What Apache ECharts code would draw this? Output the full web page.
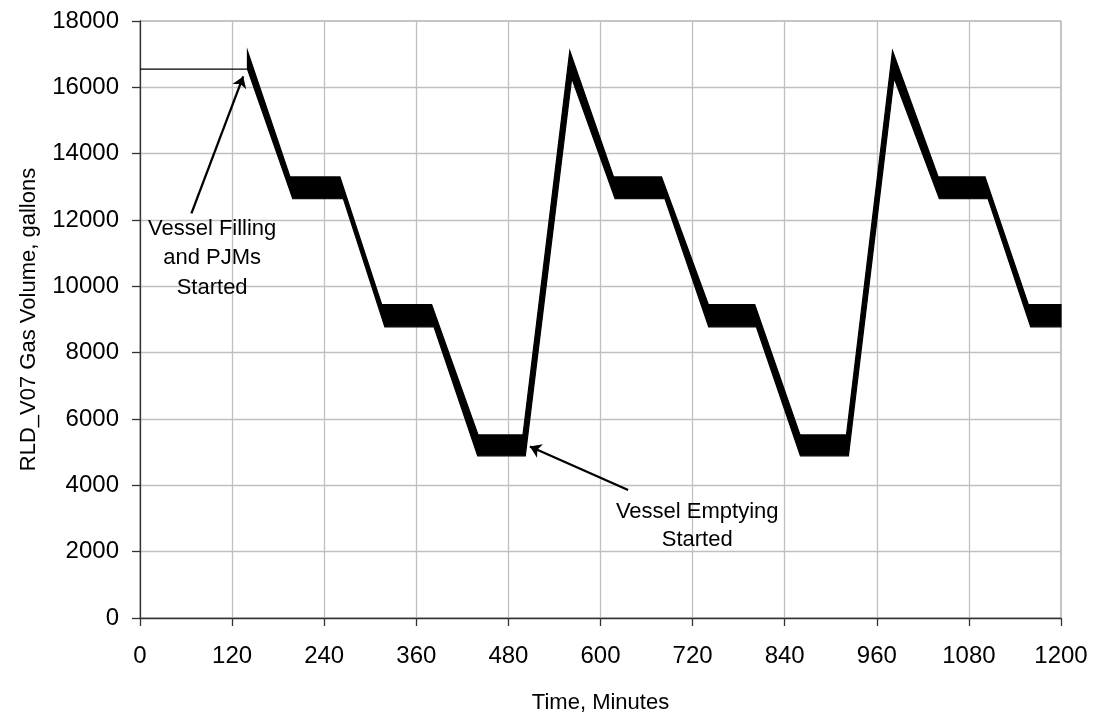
<!DOCTYPE html>
<html>
<head>
<meta charset="utf-8">
<script src="https://cdn.jsdelivr.net/npm/echarts@6/dist/echarts.min.js"></script>
<style>
  html, body { margin: 0; padding: 0; background: #fff; }
  #chart { width: 1096px; height: 716px; }
</style>
</head>
<body>
<div id="chart"></div>
<script>
// Gas volume trace: the PJM cycling makes the line oscillate faster than the
// plot resolution, so the trace is drawn as the band between its upper and
// lower envelopes (time in minutes, volume in gallons).
const upperMin = [0, 140, 140, 195.5, 260.5, 315, 380, 440.5, 499, 560, 617, 679.5, 740.5, 801, 860, 920.5, 980.5, 1040, 1101, 1157.5, 1200];
const upperGal = [16550, 16550, 17100, 13300, 13300, 9450, 9450, 5520, 5520, 17100, 13300, 13300, 9450, 9450, 5520, 5520, 17100, 13300, 13300, 9450, 9450];
const lowerMin = [0, 140, 199, 265, 319, 383, 440, 502, 562.5, 619, 684, 741, 803, 860.5, 923, 982.5, 1041.5, 1105, 1160.5, 1200];
const lowerGal = [16550, 16550, 12640, 12640, 8780, 8780, 4890, 4890, 16280, 12640, 12640, 8780, 8780, 4890, 4890, 16280, 12640, 12640, 8780, 8780];

// Axis ticks
const xTicks = [0, 120, 240, 360, 480, 600, 720, 840, 960, 1080, 1200];
const yTicks = [0, 2000, 4000, 6000, 8000, 10000, 12000, 14000, 16000, 18000];

// Callouts: text anchor, arrow tail and arrow tip in data units
const noteText = ['Vessel Filling\nand PJMs\nStarted', 'Vessel Emptying\nStarted'];
const noteAt = [[94, 10850], [726, 2790]];
const arrowFrom = [[67, 12200], [636, 3860]];
const arrowTo = [[134.5, 16330], [508, 5170]];

const FONT = 'Liberation Sans, Arial, sans-serif';
const plain = v => String(v);

const chart = echarts.init(document.getElementById('chart'), null, { renderer: 'canvas' });

const option = {
  animation: false,
  backgroundColor: '#fff',
  textStyle: { fontFamily: FONT },
  grid: {
    left: 140, right: 35, top: 21, bottom: 98,
    containLabel: false, outerBoundsMode: 'none',
    show: true, borderColor: '#8c8c8c', borderWidth: 1, backgroundColor: 'transparent'
  },
  xAxis: {
    type: 'value',
    min: xTicks[0], max: xTicks[xTicks.length - 1], interval: 120,
    name: 'Time, Minutes', nameLocation: 'middle', nameGap: 74, nameMoveOverlap: false,
    nameTextStyle: { color: '#000', fontSize: 22, fontFamily: FONT },
    axisLine: { show: true, onZero: false, lineStyle: { color: '#333', width: 1.3 } },
    axisTick: { show: true, length: 8, lineStyle: { color: '#333', width: 1.3 } },
    axisLabel: { color: '#000', fontSize: 24, fontFamily: FONT, margin: 26, formatter: plain },
    splitLine: { show: true, showMinLine: false, showMaxLine: false, lineStyle: { color: '#c0c0c0', width: 1.3 } }
  },
  yAxis: {
    type: 'value',
    min: yTicks[0], max: yTicks[yTicks.length - 1], interval: 2000,
    name: 'RLD_V07 Gas Volume, gallons', nameLocation: 'middle', nameGap: 100, nameRotate: 90, nameMoveOverlap: false,
    nameTextStyle: { color: '#000', fontSize: 22, fontFamily: FONT },
    axisLine: { show: true, onZero: false, lineStyle: { color: '#333', width: 1.3 } },
    axisTick: { show: true, length: 8, lineStyle: { color: '#333', width: 1.3 } },
    axisLabel: { color: '#000', fontSize: 24, fontFamily: FONT, margin: 21, formatter: plain },
    splitLine: { show: true, showMinLine: false, showMaxLine: false, lineStyle: { color: '#c0c0c0', width: 1.3 } }
  },
  series: [
    {
      name: 'Gas volume',
      type: 'custom',
      data: [[0, 0]],
      encode: { x: 0, y: 1 },
      renderItem: function (params, api) {
        const pts = [];
        for (let i = 0; i < upperMin.length; i++) pts.push(api.coord([upperMin[i], upperGal[i]]));
        for (let i = lowerMin.length - 1; i >= 0; i--) pts.push(api.coord([lowerMin[i], lowerGal[i]]));
        return {
          type: 'polygon',
          shape: { points: pts },
          style: { fill: '#000', stroke: '#000', lineWidth: 1.2 }
        };
      },
      z: 3
    },
    {
      name: 'Callout arrows',
      type: 'lines',
      coordinateSystem: 'cartesian2d',
      symbol: ['none', 'arrow'],
      symbolSize: 11,
      lineStyle: { color: '#000', width: 2.3, opacity: 1 },
      data: arrowFrom.map((p, i) => ({ coords: [p, arrowTo[i]] })),
      z: 4
    },
    {
      name: 'Callout text',
      type: 'scatter',
      symbolSize: 0,
      itemStyle: { opacity: 1, color: '#000' },
      data: noteAt.map((p, i) => ({ value: p, label: { formatter: noteText[i], lineHeight: i === 0 ? 29.5 : 28 } })),
      label: {
        show: true, position: 'inside', align: 'center', verticalAlign: 'middle',
        color: '#000', opacity: 1, fontSize: 22, fontFamily: FONT,
        textBorderWidth: 0, textBorderColor: 'transparent', textShadowBlur: 0
      },
      emphasis: { disabled: true },
      z: 5
    }
  ]
};

chart.setOption(option);
</script>
</body>
</html>
